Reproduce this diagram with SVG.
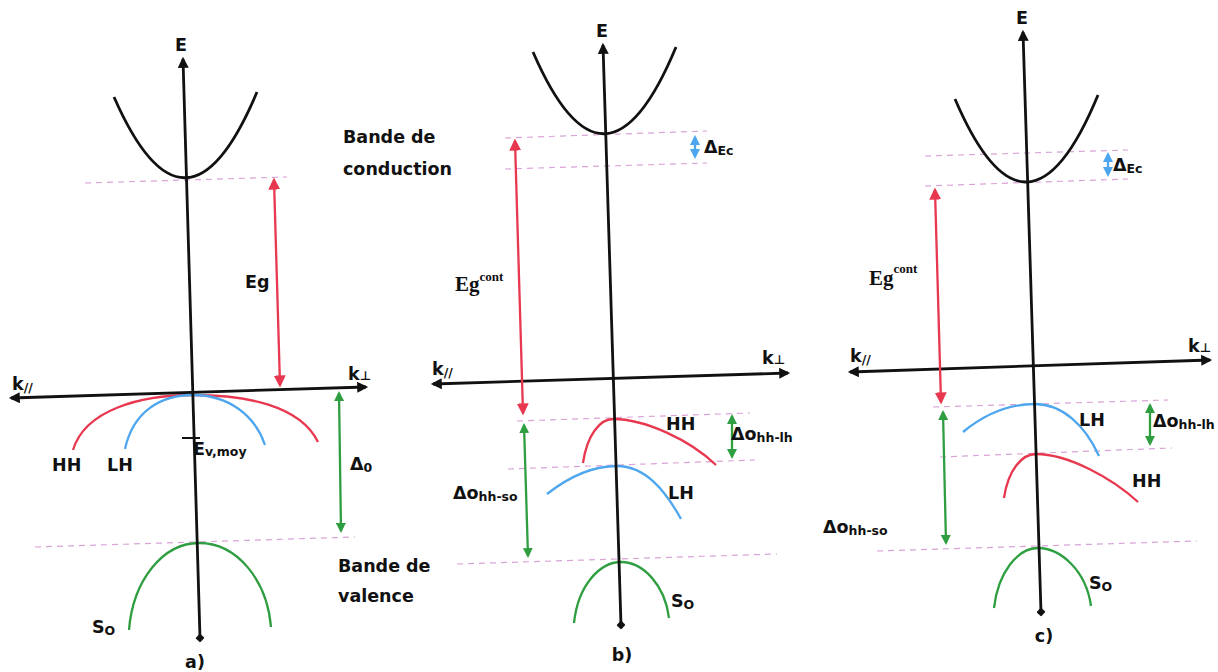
<svg xmlns="http://www.w3.org/2000/svg" width="1218" height="672" viewBox="0 0 1218 672">
<style>
.ax{stroke:#111;stroke-width:2.8;fill:none}
.cb{stroke:#111;stroke-width:2.8;fill:none}
.dash{stroke:#d9a3d6;stroke-width:1.2;stroke-dasharray:6 5;fill:none}
.red{stroke:#e8384f;stroke-width:2.3;fill:none}
.blue{stroke:#4ea6ee;stroke-width:2.3;fill:none}
.green{stroke:#2e9e40;stroke-width:2.3;fill:none}
text{font-family:"DejaVu Sans",sans-serif;font-weight:bold;font-size:17.5px;fill:#111}
.sub{font-size:12.5px}
.ser{font-family:"Liberation Serif",serif;font-weight:bold;font-size:21px}
.sup{font-family:"Liberation Serif",serif;font-weight:bold;font-size:13px}
</style>
<defs>
<marker id="mk" viewBox="0 0 10 10" refX="8" refY="5" markerWidth="12" markerHeight="11" markerUnits="userSpaceOnUse" orient="auto-start-reverse"><path d="M0,0 L10,5 L0,10 z" fill="#111"/></marker>
<marker id="md" viewBox="0 0 10 10" refX="5" refY="5" markerWidth="9" markerHeight="9" markerUnits="userSpaceOnUse" orient="auto"><path d="M0,5 L5,0 L10,5 L5,10 z" fill="#111"/></marker>
<marker id="mr" viewBox="0 0 10 10" refX="8" refY="5" markerWidth="12" markerHeight="12" markerUnits="userSpaceOnUse" orient="auto-start-reverse"><path d="M0,0 L10,5 L0,10 z" fill="#e8384f"/></marker>
<marker id="mb" viewBox="0 0 10 10" refX="8" refY="5" markerWidth="10" markerHeight="12" markerUnits="userSpaceOnUse" orient="auto-start-reverse"><path d="M0,0 L10,5 L0,10 z" fill="#4ea6ee"/></marker>
<marker id="mg" viewBox="0 0 10 10" refX="8" refY="5" markerWidth="10" markerHeight="10" markerUnits="userSpaceOnUse" orient="auto-start-reverse"><path d="M0,0 L10,5 L0,10 z" fill="#2e9e40"/></marker>
</defs>
<rect width="1218" height="672" fill="#fff"/>

<!-- Panel a -->
<g id="panel-a">
<g id="a-guides">
<path class="dash" d="M85,183 L287,177"/>
<path class="dash" d="M35,547 L355,537"/>
</g>
<g id="a-bands">
<path class="cb" d="M114,97 Q186,261 257,92"/>
<path class="red" d="M73,450 C85,410 140,395 193,395 C245,395 300,405 318,442"/>
<path class="blue" d="M125,449 C133,412 160,395 193,395 C228,395 255,415 265,445"/>
<path class="green" d="M129,630 C133,580 163,543 199,543 C237,543 267,580 271,627"/>
</g>
<g id="a-axes">
<path class="ax" d="M200,638 L183,59" marker-start="url(#md)" marker-end="url(#mk)"/>
<path class="ax" d="M11,398 L366,387" marker-start="url(#mk)" marker-end="url(#mk)"/>
<path stroke="#111" stroke-width="2" d="M182,438 L200,438"/>
</g>
<g id="a-arrows">
<path class="red" d="M274,180 L280,385" marker-start="url(#mr)" marker-end="url(#mr)"/>
<path class="green" d="M339,393 L341,531" marker-start="url(#mg)" marker-end="url(#mg)"/>
</g>
<g id="a-labels">
<text x="181" y="51" text-anchor="middle">E</text>
<text x="343" y="143">Bande de</text>
<text x="343" y="175">conduction</text>
<text x="245" y="288">Eg</text>
<text x="12" y="390">k<tspan class="sub" dy="2">//</tspan></text>
<text x="348" y="380">k<tspan class="sub">⊥</tspan></text>
<text x="52" y="471">HH</text>
<text x="107" y="471">LH</text>
<text x="193" y="455">E<tspan class="sub" dy="1">v,moy</tspan></text>
<text x="350" y="470">Δ<tspan class="sub" dy="2">0</tspan></text>
<text x="338" y="572">Bande de</text>
<text x="338" y="602">valence</text>
<text x="92" y="633">S<tspan class="sub" dy="2">O</tspan></text>
<text x="195" y="668" text-anchor="middle">a)</text>
</g>
</g>

<!-- Panel b -->
<g id="panel-b">
<g id="b-guides">
<path class="dash" d="M505,138 L707,131"/>
<path class="dash" d="M505,169 L707,163"/>
<path class="dash" d="M517,421 L750,413"/>
<path class="dash" d="M508,469 L755,460"/>
<path class="dash" d="M457,564 L777,554"/>
</g>
<g id="b-bands">
<path class="cb" d="M533,52 Q605,218 676,47"/>
<path class="red" d="M583,463 C587,435 600,419 613,419 C645,419 690,440 716,465"/>
<path class="blue" d="M547,494 C570,476 595,466 617,466 C645,466 665,490 681,519"/>
<path class="green" d="M574,623 C578,585 600,562 621,562 C643,562 665,585 669,618"/>
</g>
<g id="b-axes">
<path class="ax" d="M621,625 L603,45" marker-start="url(#md)" marker-end="url(#mk)"/>
<path class="ax" d="M433,384 L788,373" marker-start="url(#mk)" marker-end="url(#mk)"/>
</g>
<g id="b-arrows">
<path class="blue" d="M695,137 L695,157" marker-start="url(#mb)" marker-end="url(#mb)"/>
<path class="red" d="M515,141 L523,413" marker-start="url(#mr)" marker-end="url(#mr)"/>
<path class="green" d="M732,416 L732,457" marker-start="url(#mg)" marker-end="url(#mg)"/>
<path class="green" d="M524,425 L528,556" marker-start="url(#mg)" marker-end="url(#mg)"/>
</g>
<g id="b-labels">
<text x="602" y="37" text-anchor="middle">E</text>
<text x="704" y="153">Δ<tspan class="sub" dy="2">Ec</tspan></text>
<text x="455" y="291" class="ser">Eg<tspan class="sup" dy="-10">cont</tspan></text>
<text x="432" y="375">k<tspan class="sub" dy="2">//</tspan></text>
<text x="762" y="364">k<tspan class="sub">⊥</tspan></text>
<text x="666" y="430">HH</text>
<text x="731" y="440">Δo<tspan class="sub" dy="2">hh-lh</tspan></text>
<text x="668" y="499">LH</text>
<text x="453" y="499">Δo<tspan class="sub" dy="2">hh-so</tspan></text>
<text x="671" y="607">S<tspan class="sub" dy="2">O</tspan></text>
<text x="622" y="661" text-anchor="middle">b)</text>
</g>
</g>

<!-- Panel c -->
<g id="panel-c">
<g id="c-guides">
<path class="dash" d="M925,156 L1128,150"/>
<path class="dash" d="M925,186 L1128,179"/>
<path class="dash" d="M933,407 L1168,400"/>
<path class="dash" d="M940,457 L1172,448"/>
<path class="dash" d="M877,551 L1197,541"/>
</g>
<g id="c-bands">
<path class="cb" d="M955,99 Q1027,267 1098,95"/>
<path class="blue" d="M963,432 C985,414 1010,404 1035,404 C1062,404 1085,425 1099,456"/>
<path class="red" d="M1004,498 C1008,470 1022,454 1036,454 C1068,454 1112,478 1138,502"/>
<path class="green" d="M994,608 C998,572 1018,548 1038,548 C1060,548 1086,570 1091,606"/>
</g>
<g id="c-axes">
<path class="ax" d="M1041,612 L1023,32" marker-start="url(#md)" marker-end="url(#mk)"/>
<path class="ax" d="M850,372 L1210,360" marker-start="url(#mk)" marker-end="url(#mk)"/>
</g>
<g id="c-arrows">
<path class="blue" d="M1108,154 L1108,175" marker-start="url(#mb)" marker-end="url(#mb)"/>
<path class="red" d="M935,190 L941,402" marker-start="url(#mr)" marker-end="url(#mr)"/>
<path class="green" d="M1150,405 L1150,444" marker-start="url(#mg)" marker-end="url(#mg)"/>
<path class="green" d="M943,412 L946,543" marker-start="url(#mg)" marker-end="url(#mg)"/>
</g>
<g id="c-labels">
<text x="1022" y="24" text-anchor="middle">E</text>
<text x="1113" y="171">Δ<tspan class="sub" dy="2">Ec</tspan></text>
<text x="869" y="285" class="ser">Eg<tspan class="sup" dy="-12">cont</tspan></text>
<text x="850" y="362">k<tspan class="sub" dy="2">//</tspan></text>
<text x="1188" y="352">k<tspan class="sub">⊥</tspan></text>
<text x="1079" y="426">LH</text>
<text x="1153" y="427">Δo<tspan class="sub" dy="2">hh-lh</tspan></text>
<text x="1132" y="487">HH</text>
<text x="823" y="533">Δo<tspan class="sub" dy="2">hh-so</tspan></text>
<text x="1089" y="589">S<tspan class="sub" dy="2">O</tspan></text>
<text x="1044" y="642" text-anchor="middle">c)</text>
</g>
</g>
</svg>
